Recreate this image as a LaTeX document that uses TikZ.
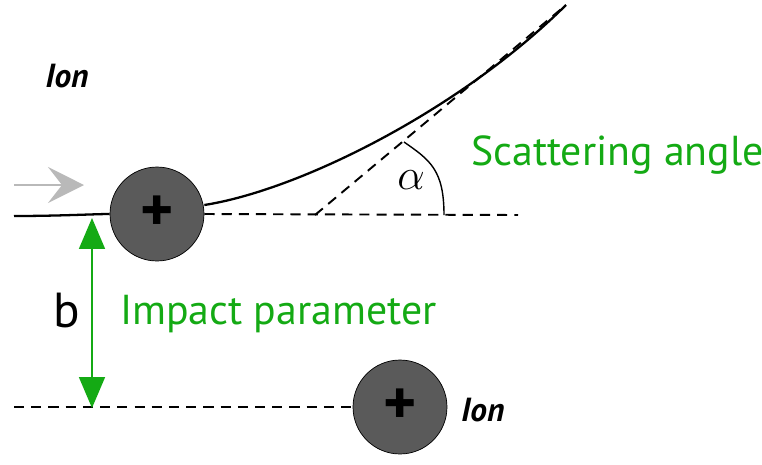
\documentclass[tikz,border=0pt]{standalone}
\usepackage{fontspec}
\setmainfont{PT Sans}
\usepackage{tikz}
\usetikzlibrary{arrows.meta}
\definecolor{sgreen}{RGB}{20,170,20}
\definecolor{iongray}{RGB}{90,90,90}
\tikzset{
  ion/.style={circle, draw=black, fill=iongray, minimum size=1.88cm, inner sep=0pt},
  label/.style={text=sgreen, font=\fontsize{23.8}{28}\selectfont, anchor=west},
  ionname/.style={font=\fontsize{19}{22}\selectfont\bfseries\itshape},
  guide/.style={dash pattern=on 5.8pt off 4pt, line width=1.1pt}
}
\newcommand{\pluss}{\fontsize{36}{36}\selectfont\bfseries +}

\begin{document}
\begin{tikzpicture}[x=0.02cm, y=-0.02cm]
\useasboundingbox (0,0) rectangle (762,464);
% upper ion and the path of the incoming ion
\node[ion] (top) at (157,214) {\pluss};
\node[ion] (bot) at (400,407) {\pluss};
\node[ionname] (iontxt) at (67,76) {Ion};
\node[ionname, anchor=west] (iontxt2) at (455,410) {Ion};
\coordinate (inl) at (14,216);
\coordinate (far) at (566,5);
\coordinate (apex) at (315,215);
\coordinate (hend) at (518,215);
\coordinate (lowl) at (14,407);
\draw[line width=1.3pt] (inl) .. controls (60,216) and (95,214) .. (top.west);
\draw[line width=1.3pt] (top.east) ++(0,-9) .. controls (300,190) and (460,110) .. (far);
% guides
\draw[guide] (top.east) -- (hend);
\draw[guide] (apex) -- (far);
\draw[guide] (lowl) -- (bot.west);
% angle
\coordinate (a1) at (404,142);
\coordinate (a2) at (444,215);
\draw[line width=0.8pt] (a1) .. controls (430,160) and (444,170) .. (a2);
\node (alpha) at (411,180) {\fontsize{30}{32}\selectfont$\alpha$};
% incoming direction
\coordinate (g1) at (14,185);
\coordinate (g2) at (84,185);
\draw[-{Stealth[length=0.72cm, width=0.72cm, inset=0.28cm]}, gray!55, line width=1pt] (g1) -- (g2);
% impact parameter
\coordinate (b1) at (92,218);
\coordinate (b2) at (92,408);
\draw[{Triangle[length=0.62cm, width=0.52cm]}-{Triangle[length=0.62cm, width=0.52cm]}, sgreen, line width=1pt] (b1) -- (b2);
\node (btxt) at (67,310) {\fontsize{28}{30}\selectfont b};
\node[label] (imp) at (114,314) {Impact parameter};
\node[label] (scat) at (465,155) {Scattering angle};
\end{tikzpicture}
\end{document}
